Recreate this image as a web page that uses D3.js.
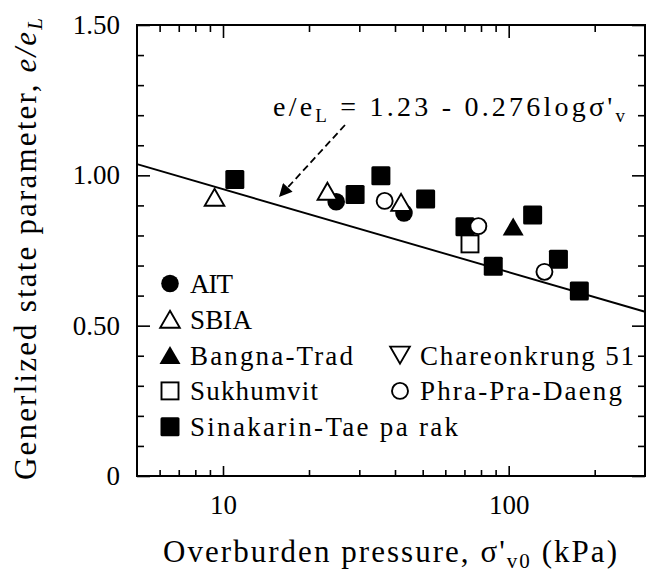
<!DOCTYPE html>
<html>
<head>
<meta charset="utf-8">
<script src="https://cdn.jsdelivr.net/npm/d3@7"></script>
<style>
  html, body { margin: 0; padding: 0; background: #fff; }
  svg { display: block; }
  text { font-family: "Liberation Serif", "Times New Roman", Times, serif; fill: #000; }
</style>
</head>
<body>
<svg id="chart" width="646" height="574"></svg>
<script>
// Overburden pressure (kPa) and generalized state parameter e/eL, per site
const ait        = [[24.9, 0.912], [43.0, 0.875]];
const sbia       = [[9.34, 0.927], [23.2, 0.947], [42.0, 0.910]];
const bangnaTrad = [[103.7, 0.830]];
const chareonkrung51 = [];
const sukhumvit  = [[73.2, 0.772]];
const phraPraDaeng = [[36.8, 0.915], [78.3, 0.831], [133.4, 0.679]];
const sinakarin  = [[11.0, 0.986], [29.0, 0.936], [35.7, 0.999], [51.2, 0.921],
                    [70.3, 0.829], [88.3, 0.698], [121.3, 0.868], [149.3, 0.721], [176.7, 0.615]];

// Regression line e/eL = a - b log(sigma'v)
const fitA = 1.23, fitB = 0.276;
const fitLabel = ["e/e", "L", " = 1.23 - 0.276log\u03c3'", "v"];

const xDomain = [5, 300];
const yDomain = [0, 1.5];
const xMajor = [10, 100];
const xMinor = [6, 7, 8, 9, 20, 30, 40, 50, 60, 70, 80, 90, 200, 300];
const yMajor = [0, 0.5, 1.0, 1.5];
const yMinor = [0.1, 0.2, 0.3, 0.4, 0.6, 0.7, 0.8, 0.9, 1.1, 1.2, 1.3, 1.4];
const yTickText = ["0", "0.50", "1.00", "1.50"];

const svg = d3.select("#chart");
const L = 137, R = 645, T = 25, B = 476;
const x = d3.scaleLog().domain(xDomain).range([L, R]);
const y = d3.scaleLinear().domain(yDomain).range([B, T]);

// Axes with inward ticks on all four sides
function strip(g) {
  g.attr("font-family", null);
  g.select(".domain").remove();
  g.selectAll("line").attr("stroke", "#000").attr("stroke-width", 1.6);
}

svg.append("g").attr("transform", `translate(0,${B})`)
  .call(d3.axisBottom(x).tickValues(xMajor).tickSize(-10).tickPadding(19).tickFormat(d3.format("d")))
  .call(strip)
  .call(g => g.selectAll("text").attr("font-size", 27));
svg.append("g").attr("transform", `translate(0,${B})`)
  .call(d3.axisBottom(x).tickValues(xMinor).tickSize(-6).tickFormat("")).call(strip);
svg.append("g").attr("transform", `translate(0,${T})`)
  .call(d3.axisTop(x).tickValues(xMajor).tickSize(-13).tickFormat("")).call(strip);
svg.append("g").attr("transform", `translate(0,${T})`)
  .call(d3.axisTop(x).tickValues(xMinor).tickSize(-7).tickFormat("")).call(strip);

svg.append("g").attr("transform", `translate(${L},0)`)
  .call(d3.axisLeft(y).tickValues(yMajor).tickSize(-13).tickPadding(17)
        .tickFormat((d, i) => yTickText[i]))
  .call(strip)
  .call(g => g.selectAll("text").attr("font-size", 27));
svg.append("g").attr("transform", `translate(${L},0)`)
  .call(d3.axisLeft(y).tickValues(yMinor).tickSize(-7).tickFormat("")).call(strip);
svg.append("g").attr("transform", `translate(${R},0)`)
  .call(d3.axisRight(y).tickValues(yMajor).tickSize(-13).tickFormat("")).call(strip);
svg.append("g").attr("transform", `translate(${R},0)`)
  .call(d3.axisRight(y).tickValues(yMinor).tickSize(-7).tickFormat("")).call(strip);

svg.append("rect").attr("x", L).attr("y", T).attr("width", R - L).attr("height", B - T)
  .attr("fill", "none").attr("stroke", "#000").attr("stroke-width", 2);

// Fitted line across the full pressure range
const fitLine = d3.line().x(d => x(d)).y(d => y(fitA - fitB * Math.log10(d)));
svg.append("path").datum(xDomain).attr("d", fitLine)
  .attr("fill", "none").attr("stroke", "#000").attr("stroke-width", 1.9);

// Markers
const S = 9.5; // half size of filled squares
function marker(g, type, cx, cy) {
  switch (type) {
    case "circleFill":
      g.append("circle").attr("cx", cx).attr("cy", cy).attr("r", 8.8).attr("fill", "#000"); break;
    case "circleOpen":
      g.append("circle").attr("cx", cx).attr("cy", cy).attr("r", 8)
        .attr("fill", "#fff").attr("stroke", "#000").attr("stroke-width", 1.9); break;
    case "triUpOpen":
      g.append("path").attr("d", `M${cx},${cy - 8.5}L${cx + 9.8},${cy + 8.5}L${cx - 9.8},${cy + 8.5}Z`)
        .attr("fill", "#fff").attr("stroke", "#000").attr("stroke-width", 1.9); break;
    case "triUpFill":
      g.append("path").attr("d", `M${cx},${cy - 9}L${cx + 10.5},${cy + 9}L${cx - 10.5},${cy + 9}Z`)
        .attr("fill", "#000"); break;
    case "triDownOpen":
      g.append("path").attr("d", `M${cx},${cy + 8.5}L${cx + 9.8},${cy - 8.5}L${cx - 9.8},${cy - 8.5}Z`)
        .attr("fill", "#fff").attr("stroke", "#000").attr("stroke-width", 1.9); break;
    case "squareOpen":
      g.append("rect").attr("x", cx - 8.5).attr("y", cy - 8.5).attr("width", 17).attr("height", 17)
        .attr("fill", "#fff").attr("stroke", "#000").attr("stroke-width", 1.9); break;
    case "squareFill":
      g.append("rect").attr("x", cx - S).attr("y", cy - S).attr("width", 2 * S).attr("height", 2 * S)
        .attr("rx", 1.5).attr("fill", "#000"); break;
  }
}

const series = [
  { name: "AIT", data: ait, type: "circleFill", lx: 0, row: 0, w: 43 },
  { name: "Sinakarin-Tae pa rak", data: sinakarin, type: "squareFill", lx: 0, row: 4, w: 268 },
  { name: "Sukhumvit", data: sukhumvit, type: "squareOpen", lx: 0, row: 3, w: 128 },
  { name: "Phra-Pra-Daeng", data: phraPraDaeng, type: "circleOpen", lx: 1, row: 3, w: 202 },
  { name: "SBIA", data: sbia, type: "triUpOpen", lx: 0, row: 1, w: 62 },
  { name: "Bangna-Trad", data: bangnaTrad, type: "triUpFill", lx: 0, row: 2, w: 163 },
  { name: "Chareonkrung 51", data: chareonkrung51, type: "triDownOpen", lx: 1, row: 2, w: 214 }
];

const pts = svg.append("g");
series.forEach(s => s.data.forEach(d => marker(pts, s.type, x(d[0]), y(d[1]))));

// Legend
const leg = svg.append("g");
const colX = [170, 400], rowY0 = 283.5, rowDy = 35.8;
series.forEach(s => {
  const cx = colX[s.lx], cy = rowY0 + s.row * rowDy;
  marker(leg, s.type, cx, cy);
  leg.append("text").attr("x", cx + 20).attr("y", cy + 9.5)
    .attr("font-size", 27).attr("textLength", s.w).attr("lengthAdjust", "spacing")
    .text(s.name);
});

// Equation label with dashed pointer
const eq = svg.append("text").attr("x", 273).attr("y", 116).attr("font-size", 28)
  .attr("textLength", 352).attr("lengthAdjust", "spacing");
eq.append("tspan").text(fitLabel[0]);
eq.append("tspan").attr("font-size", 19).attr("dy", 6).text(fitLabel[1]);
eq.append("tspan").attr("dy", -6).text(fitLabel[2]);
eq.append("tspan").attr("font-size", 19).attr("dy", 6).text(fitLabel[3]);

const defs = svg.append("defs");
defs.append("marker").attr("id", "head").attr("viewBox", "0 0 10 10")
  .attr("refX", 10).attr("refY", 5).attr("markerWidth", 15).attr("markerHeight", 13)
  .attr("markerUnits", "userSpaceOnUse").attr("orient", "auto")
  .append("path").attr("d", "M0,0L10,5L0,10Z").attr("fill", "#000");
svg.append("line").attr("x1", 345).attr("y1", 125).attr("x2", 279).attr("y2", 197)
  .attr("stroke", "#000").attr("stroke-width", 1.8).attr("stroke-dasharray", "7,4")
  .attr("marker-end", "url(#head)");

// Axis titles
const xt = svg.append("text").attr("x", 163).attr("y", 562).attr("font-size", 31)
  .attr("textLength", 454).attr("lengthAdjust", "spacing");
xt.append("tspan").text("Overburden pressure, \u03c3'");
xt.append("tspan").attr("font-size", 21).attr("dy", 6).text("v0");
xt.append("tspan").attr("dy", -6).text(" (kPa)");

const yt = svg.append("text").attr("transform", "translate(36,480) rotate(-90)")
  .attr("font-size", 31).attr("textLength", 462).attr("lengthAdjust", "spacing");
yt.append("tspan").text("Generlized state parameter, ");
yt.append("tspan").attr("font-style", "italic").text("e/e");
yt.append("tspan").attr("font-style", "italic").attr("font-size", 21).attr("dy", 6).text("L");
</script>
</body>
</html>
